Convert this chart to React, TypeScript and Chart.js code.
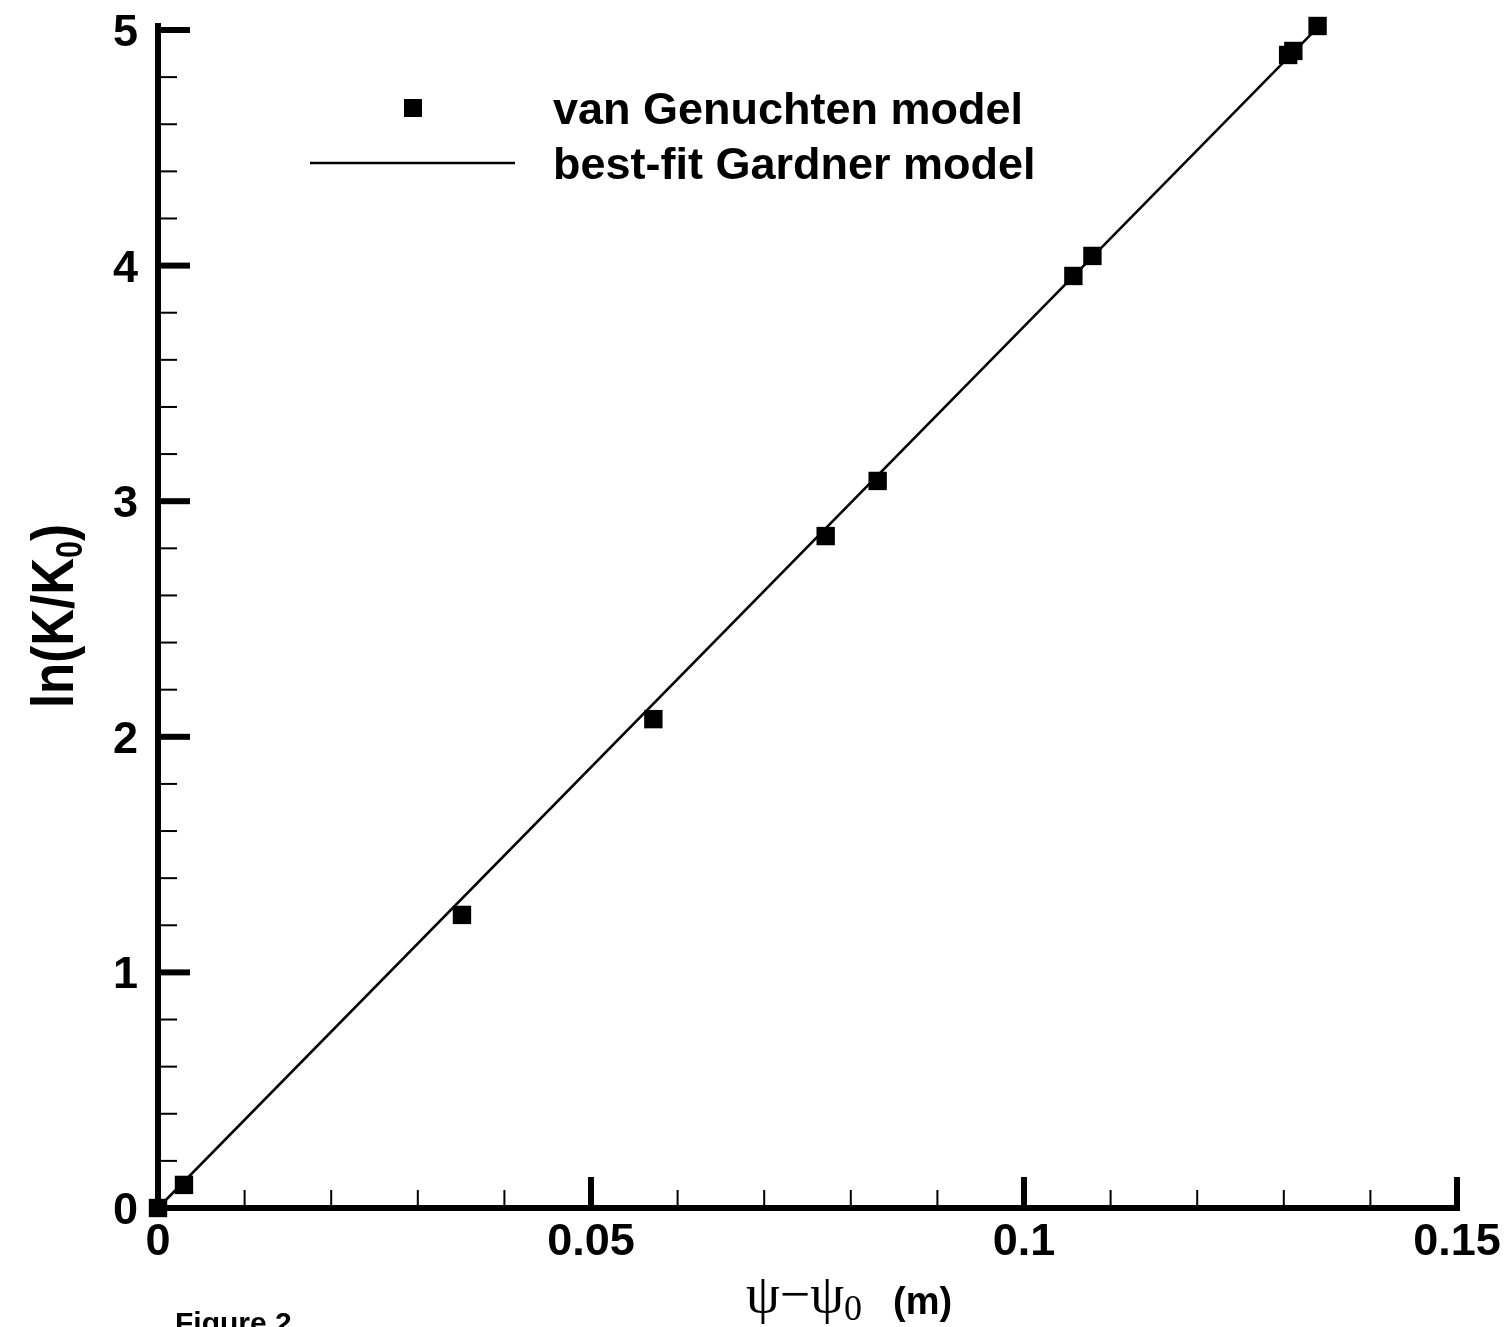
import React, { useEffect, useRef } from "react";
import { Chart, registerables } from "chart.js";

Chart.register(...registerables);

// Data: van Genuchten model points (psi - psi0 [m], ln(K/K0))
const vgX = [0, 0.003, 0.0351, 0.0572, 0.0771, 0.0831, 0.1057, 0.1079, 0.1305, 0.1311, 0.1339];
const vgY = [0, 0.098, 1.244, 2.075, 2.852, 3.086, 3.956, 4.041, 4.894, 4.911, 5.017];

// Best-fit Gardner model (straight line)
const fitX = [0, 0.1339];
const fitY = [0, 5.01];

// Axis ticks
const xMajorTicks = [0, 0.05, 0.1, 0.15];
const xTickLabels = ["0", "0.05", "0.1", "0.15"];
const xMinorTicks = [0.01, 0.02, 0.03, 0.04, 0.06, 0.07, 0.08, 0.09, 0.11, 0.12, 0.13, 0.14];
const yMajorTicks = [0, 1, 2, 3, 4, 5];
const yTickLabels = ["0", "1", "2", "3", "4", "5"];
const yMinorTicks = [
  0.2, 0.4, 0.6, 0.8, 1.2, 1.4, 1.6, 1.8, 2.2, 2.4, 2.6, 2.8, 3.2, 3.4, 3.6, 3.8, 4.2, 4.4, 4.6, 4.8,
];

const legendLabels = ["van Genuchten model", "best-fit Gardner model"];

const SANS = "'Liberation Sans', Arial, Helvetica, sans-serif";
const SERIF = "'Liberation Serif', 'Times New Roman', serif";

const decorPlugin = {
  id: "decor",
  afterDatasetsDraw(chart: any) {
    const ctx = chart.ctx as CanvasRenderingContext2D;
    const xs = chart.scales.x;
    const ys = chart.scales.y;
    const x0 = xs.getPixelForValue(0);
    const y0 = ys.getPixelForValue(0);
    const xEnd = xs.getPixelForValue(0.15);
    const yTop = ys.getPixelForValue(5);
    ctx.save();
    ctx.fillStyle = "#000";
    ctx.strokeStyle = "#000";

    // axis lines
    ctx.fillRect(x0 - 3, yTop - 7, 6, y0 - yTop + 10);
    ctx.fillRect(x0 - 3, y0 - 3, xEnd - x0 + 6, 6);

    // x ticks (inward)
    xMajorTicks.forEach((v) => {
      const px = xs.getPixelForValue(v);
      ctx.fillRect(px - 3, y0 - 31, 6, 31);
    });
    xMinorTicks.forEach((v) => {
      const px = xs.getPixelForValue(v);
      ctx.fillRect(px - 1, y0 - 18, 2, 18);
    });
    // y ticks
    yMajorTicks.forEach((v) => {
      const py = ys.getPixelForValue(v);
      ctx.fillRect(x0, py - 3, 32, 6);
    });
    yMinorTicks.forEach((v) => {
      const py = ys.getPixelForValue(v);
      ctx.fillRect(x0, py - 1, 19, 2);
    });

    // tick labels
    ctx.font = `bold 45px ${SANS}`;
    ctx.textAlign = "center";
    ctx.textBaseline = "alphabetic";
    xMajorTicks.forEach((v, i) => {
      ctx.fillText(xTickLabels[i], xs.getPixelForValue(v), y0 + 47);
    });
    ctx.textAlign = "right";
    yMajorTicks.forEach((v, i) => {
      ctx.fillText(yTickLabels[i], x0 - 20, ys.getPixelForValue(v) + 16);
    });

    // y title (rotated, condensed)
    ctx.save();
    ctx.translate(73, 616);
    ctx.rotate(-Math.PI / 2);
    ctx.scale(0.85, 1);
    ctx.textAlign = "left";
    const big = `bold 60px ${SANS}`;
    const small = `bold 36px ${SANS}`;
    ctx.font = big;
    const p1 = "ln(K/K";
    const w1 = ctx.measureText(p1).width;
    ctx.font = small;
    const w2 = ctx.measureText("0").width;
    ctx.font = big;
    const w3 = ctx.measureText(")").width;
    const total = w1 + w2 + w3;
    let cx = -total / 2;
    ctx.fillText(p1, cx, 0);
    cx += w1;
    ctx.font = small;
    ctx.fillText("0", cx, 9);
    cx += w2;
    ctx.font = big;
    ctx.fillText(")", cx, 0);
    ctx.restore();

    // x title
    ctx.textAlign = "left";
    const ty = 1312;
    ctx.font = `54px ${SERIF}`;
    ctx.fillText("\u03C8\u2212\u03C8", 746, ty);
    const tx = 746 + ctx.measureText("\u03C8\u2212\u03C8").width;
    ctx.font = `36px ${SERIF}`;
    ctx.fillText("0", tx, ty + 8);
    ctx.font = `bold 38px ${SANS}`;
    ctx.fillText("(m)", 893, ty + 2);

    // Figure label (partially cut at bottom)
    ctx.font = `bold 30px ${SANS}`;
    ctx.fillText("Figure 2", 175, 1333);

    // legend
    ctx.fillRect(404, 99, 18, 18);
    ctx.lineWidth = 2.5;
    ctx.beginPath();
    ctx.moveTo(310, 163);
    ctx.lineTo(515, 163);
    ctx.stroke();
    ctx.font = `bold 45px ${SANS}`;
    ctx.fillText(legendLabels[0], 553, 124);
    ctx.fillText(legendLabels[1], 553, 179);

    ctx.restore();
  },
};

export default function App() {
  const canvasRef = useRef<HTMLCanvasElement | null>(null);

  useEffect(() => {
    document.body.style.margin = "0";
    const canvas = canvasRef.current;
    if (!canvas) return;
    const chart = new Chart(canvas, {
      type: "scatter",
      data: {
        datasets: [
          {
            label: legendLabels[1],
            type: "line",
            data: fitX.map((x, i) => ({ x, y: fitY[i] })),
            borderColor: "#000",
            borderWidth: 2.5,
            pointRadius: 0,
            fill: false,
            clip: false as any,
          },
          {
            label: legendLabels[0],
            data: vgX.map((x, i) => ({ x, y: vgY[i] })),
            pointStyle: "rect",
            pointRadius: 13,
            pointBorderWidth: 0,
            backgroundColor: "#000",
            borderColor: "#000",
            clip: false as any,
          },
        ],
      },
      options: {
        animation: false,
        responsive: false,
        devicePixelRatio: 1,
        layout: { padding: { left: 158, right: 53, top: 30, bottom: 119 } },
        plugins: { legend: { display: false }, tooltip: { enabled: false } },
        scales: {
          x: { type: "linear", min: 0, max: 0.15, display: false },
          y: { type: "linear", min: 0, max: 5, display: false },
        },
      },
      plugins: [decorPlugin],
    });
    return () => chart.destroy();
  }, []);

  return (
    <div style={{ width: 1510, height: 1327, background: "#fff" }}>
      <canvas ref={canvasRef} width={1510} height={1327} style={{ display: "block" }} />
    </div>
  );
}
